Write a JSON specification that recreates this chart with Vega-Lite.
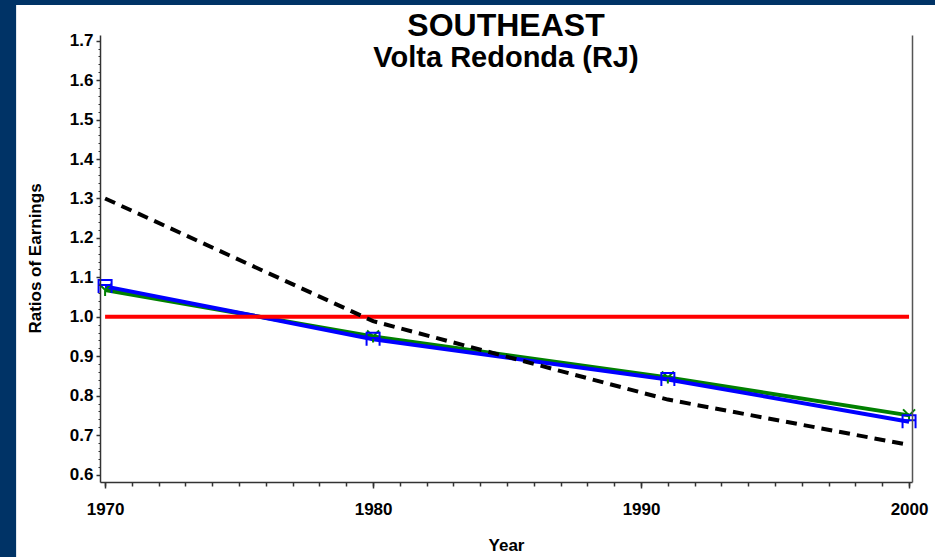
{
  "$schema": "https://vega.github.io/schema/vega-lite/v6.json",
  "width": 812,
  "height": 447,
  "autosize": "none",
  "padding": {"left": 100, "top": 35, "right": 23, "bottom": 75},
  "background": "#003366",
  "config": {
    "view": {"stroke": null},
    "axis": {
      "grid": false,
      "labelFont": "Liberation Sans",
      "titleFont": "Liberation Sans",
      "labelFontWeight": "bold",
      "titleFontWeight": "bold",
      "labelColor": "#000000",
      "titleColor": "#000000",
      "tickColor": "#333333",
      "domainColor": "#333333"
    }
  },
  "title": {
    "text": "SOUTHEAST",
    "subtitle": "Volta Redonda (RJ)",
    "font": "Liberation Sans",
    "fontSize": 32,
    "fontWeight": "bold",
    "color": "#000000",
    "subtitleFont": "Liberation Sans",
    "subtitleFontSize": 29,
    "subtitleFontWeight": "bold",
    "subtitleColor": "#000000",
    "anchor": "middle",
    "frame": "group",
    "offset": -69,
    "subtitlePadding": 1,
    "zindex": 2
  },
  "data": {
    "values": [
      {"year": 1970, "ratio": 1.0, "series": "Reference"},
      {"year": 1980, "ratio": 1.0, "series": "Reference"},
      {"year": 1991, "ratio": 1.0, "series": "Reference"},
      {"year": 2000, "ratio": 1.0, "series": "Reference"},
      {"year": 1970, "ratio": 1.30, "series": "Dashed"},
      {"year": 1980, "ratio": 0.989, "series": "Dashed"},
      {"year": 1991, "ratio": 0.79, "series": "Dashed"},
      {"year": 2000, "ratio": 0.675, "series": "Dashed"},
      {"year": 1970, "ratio": 1.068, "series": "Green"},
      {"year": 1980, "ratio": 0.950, "series": "Green"},
      {"year": 1991, "ratio": 0.846, "series": "Green"},
      {"year": 2000, "ratio": 0.750, "series": "Green"},
      {"year": 1970, "ratio": 1.077, "series": "Blue"},
      {"year": 1980, "ratio": 0.943, "series": "Blue"},
      {"year": 1991, "ratio": 0.841, "series": "Blue"},
      {"year": 2000, "ratio": 0.734, "series": "Blue"}
    ]
  },
  "layer": [
    {
      "data": {"values": [{}]},
      "mark": {"type": "rect", "fill": "#ffffff"},
      "encoding": {
        "x": {"datum": 1966.68, "type": "quantitative", "scale": {"domain": [1969.81, 2000.11], "nice": false, "zero": false}, "axis": null},
        "x2": {"datum": 2003},
        "y": {"datum": 1.7906, "type": "quantitative", "scale": {"domain": [0.581, 1.7145], "nice": false, "zero": false}, "axis": null},
        "y2": {"datum": 0.2}
      }
    },
    {
      "transform": [{"filter": "datum.series === 'Green'"}],
      "mark": {"type": "line", "color": "#008000", "strokeWidth": 4},
      "encoding": {
        "x": {"field": "year", "type": "quantitative", "scale": {"domain": [1969.81, 2000.11], "nice": false, "zero": false},
          "axis": {"orient": "bottom", "zindex": 1, "values": [1970,1971,1972,1973,1974,1975,1976,1977,1978,1979,1980,1981,1982,1983,1984,1985,1986,1987,1988,1989,1990,1991,1992,1993,1994,1995,1996,1997,1998,1999,2000], "labels": false, "domain": false, "tickSize": 4, "tickWidth": 1.5, "title": null}},
        "y": {"field": "ratio", "type": "quantitative", "scale": {"domain": [0.581, 1.7145], "nice": false, "zero": false},
          "axis": {"orient": "left", "zindex": 1, "values": [0.6,0.62,0.64,0.66,0.68,0.7,0.72,0.74,0.76,0.78,0.8,0.82,0.84,0.86,0.88,0.9,0.92,0.94,0.96,0.98,1.0,1.02,1.04,1.06,1.08,1.1,1.12,1.14,1.16,1.18,1.2,1.22,1.24,1.26,1.28,1.3,1.32,1.34,1.36,1.38,1.4,1.42,1.44,1.46,1.48,1.5,1.52,1.54,1.56,1.58,1.6,1.62,1.64,1.66,1.68,1.7], "labels": false, "domain": false, "tickSize": 2, "tickWidth": 1, "title": null}}
      }
    },
    {
      "transform": [{"filter": "datum.series === 'Blue'"}],
      "mark": {"type": "line", "color": "#0000ff", "strokeWidth": 4},
      "encoding": {
        "x": {"field": "year", "type": "quantitative", "scale": {"domain": [1969.81, 2000.11], "nice": false, "zero": false}, "axis": null},
        "y": {"field": "ratio", "type": "quantitative", "scale": {"domain": [0.581, 1.7145], "nice": false, "zero": false},
          "axis": {"orient": "right", "zindex": 1, "labels": false, "ticks": false, "domain": true, "domainWidth": 1.5, "domainColor": "#555555", "title": null}}
      }
    },
    {
      "transform": [{"filter": "datum.series === 'Reference'"}],
      "mark": {"type": "line", "color": "#ff0000", "strokeWidth": 4},
      "encoding": {
        "x": {"field": "year", "type": "quantitative", "scale": {"domain": [1969.81, 2000.11], "nice": false, "zero": false},
          "axis": {"orient": "bottom", "zindex": 1, "values": [1970, 1980, 1990, 2000], "format": "d", "tickSize": 6, "tickWidth": 1.5, "domain": true, "domainWidth": 1.5, "labelFontSize": 17, "labelPadding": 13, "title": "Year", "titleFontSize": 17, "titleY": 68, "titleBaseline": "alphabetic"}},
        "y": {"field": "ratio", "type": "quantitative", "scale": {"domain": [0.581, 1.7145], "nice": false, "zero": false},
          "axis": {"orient": "left", "zindex": 1, "values": [0.6, 0.7, 0.8, 0.9, 1.0, 1.1, 1.2, 1.3, 1.4, 1.5, 1.6, 1.7], "format": ".1f", "tickSize": 4, "tickWidth": 1.5, "domain": true, "domainWidth": 1.5, "labelFontSize": 17, "labelPadding": 3, "title": "Ratios of Earnings", "titleFontSize": 17, "titleX": -60, "titleY": 223, "titleAlign": "center", "titleBaseline": "alphabetic", "titleAngle": -90}}
      }
    },
    {
      "transform": [{"filter": "datum.series === 'Dashed'"}],
      "mark": {"type": "line", "color": "#000000", "strokeWidth": 4, "strokeDash": [11, 7]},
      "encoding": {
        "x": {"field": "year", "type": "quantitative", "scale": {"domain": [1969.81, 2000.11], "nice": false, "zero": false}, "axis": null},
        "y": {"field": "ratio", "type": "quantitative", "scale": {"domain": [0.581, 1.7145], "nice": false, "zero": false}, "axis": null}
      }
    },
    {
      "transform": [{"filter": "datum.series === 'Green'"}],
      "mark": {"type": "point", "shape": "M-1,-1L0,0L1,-1M0,0L0,1", "filled": false, "strokeWidth": 2, "size": 144, "color": "#008000", "opacity": 1},
      "encoding": {
        "x": {"field": "year", "type": "quantitative", "scale": {"domain": [1969.81, 2000.11], "nice": false, "zero": false}, "axis": null},
        "y": {"field": "ratio", "type": "quantitative", "scale": {"domain": [0.581, 1.7145], "nice": false, "zero": false}, "axis": null}
      }
    },
    {
      "transform": [{"filter": "datum.series === 'Blue'"}],
      "mark": {"type": "point", "shape": "M-1,-1H1V-0.2H-1Z M-1,-0.2V1 M1,-0.2V1", "filled": false, "strokeWidth": 2, "size": 169, "color": "#0000ff", "opacity": 1},
      "encoding": {
        "x": {"field": "year", "type": "quantitative", "scale": {"domain": [1969.81, 2000.11], "nice": false, "zero": false}, "axis": null},
        "y": {"field": "ratio", "type": "quantitative", "scale": {"domain": [0.581, 1.7145], "nice": false, "zero": false}, "axis": null}
      }
    }
  ],
  "resolve": {"axis": {"x": "independent", "y": "independent"}}
}
